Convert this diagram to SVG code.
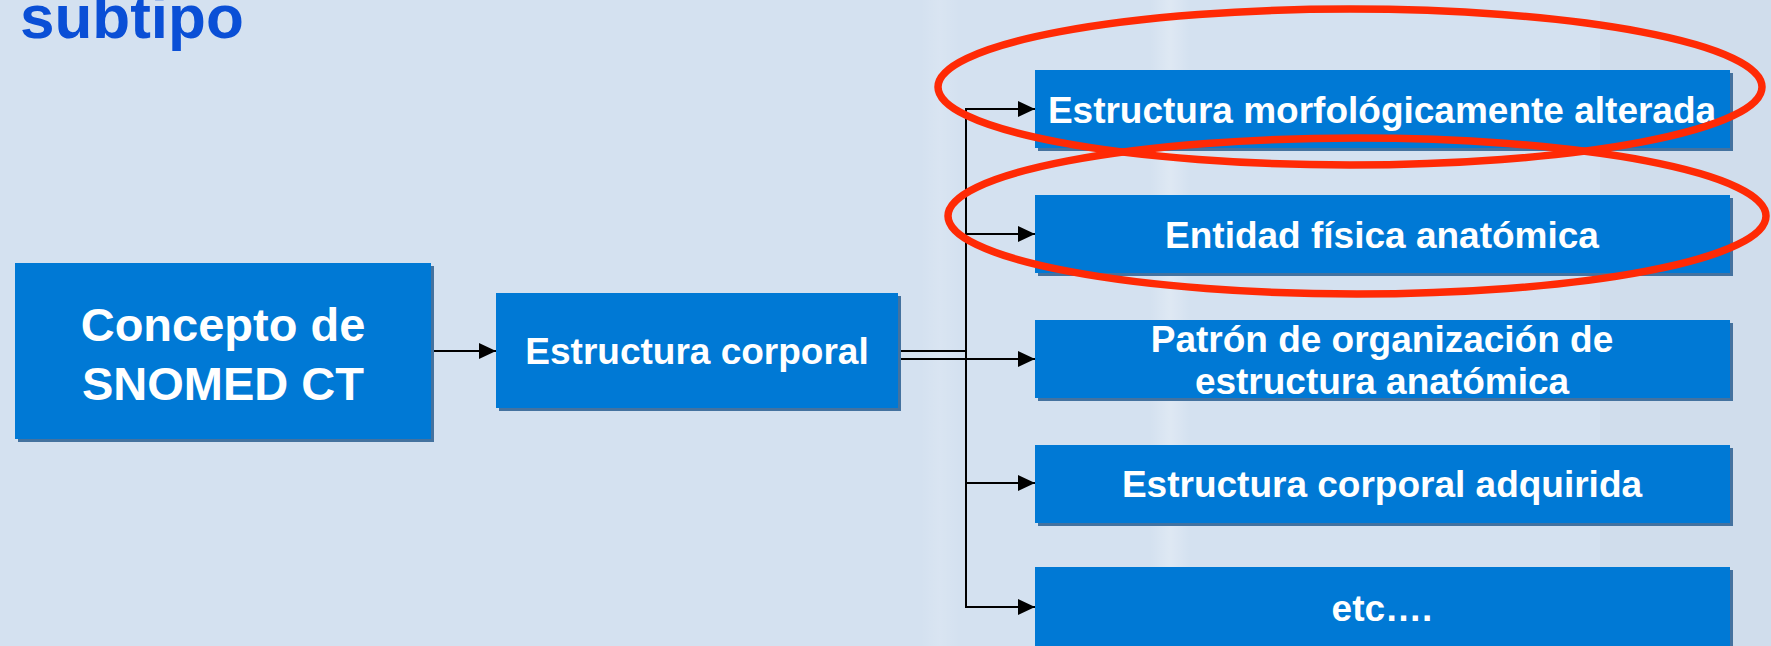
<svg xmlns="http://www.w3.org/2000/svg" width="1771" height="646" viewBox="0 0 1771 646">
<defs>
<style>
.box{fill:#0079D5}
.sh{fill:#44729F}
.t{font-family:"Liberation Sans",Arial,sans-serif;font-weight:bold;fill:#FFFFFF;text-anchor:middle}
.ln{stroke:#000;stroke-width:2;fill:none}
.ring{fill:none;stroke:#FF2A05;stroke-width:7.5}
</style>
<marker id="ah" markerWidth="17" markerHeight="16" refX="17" refY="8" orient="auto" markerUnits="userSpaceOnUse">
<path d="M0,0 L17,8 L0,16 Z" fill="#000"/>
</marker>
<linearGradient id="streak" x1="0" y1="0" x2="1" y2="0">
<stop offset="0" stop-color="#FFFFFF" stop-opacity="0"/>
<stop offset="0.5" stop-color="#FFFFFF" stop-opacity="0.25"/>
<stop offset="1" stop-color="#FFFFFF" stop-opacity="0"/>
</linearGradient>
</defs>
<rect x="0" y="0" width="1771" height="646" fill="#D4E1F0"/>
<rect x="1150" y="0" width="40" height="646" fill="url(#streak)"/>
<rect x="920" y="0" width="40" height="646" fill="url(#streak)" opacity="0.5"/>
<rect x="1600" y="0" width="171" height="646" fill="#CBD7E6" opacity="0.4"/>

<text x="20" y="38" font-family="'Liberation Sans',Arial,sans-serif" font-weight="bold" font-size="62" fill="#0A4FD6">subtipo</text>

<g id="connectors">
<line class="ln" x1="431" y1="351" x2="496" y2="351" marker-end="url(#ah)"/>
<line class="ln" x1="898" y1="351" x2="967" y2="351"/>
<line class="ln" x1="898" y1="359" x2="1035" y2="359" marker-end="url(#ah)"/>
<line class="ln" x1="966" y1="108" x2="966" y2="608"/>
<line class="ln" x1="965" y1="109" x2="1035" y2="109" marker-end="url(#ah)"/>
<line class="ln" x1="965" y1="234" x2="1035" y2="234" marker-end="url(#ah)"/>
<line class="ln" x1="965" y1="483" x2="1035" y2="483" marker-end="url(#ah)"/>
<line class="ln" x1="965" y1="607" x2="1035" y2="607" marker-end="url(#ah)"/>
</g>

<g id="n-concepto">
<rect class="sh" x="18" y="266" width="416" height="176"/>
<rect class="box" x="15" y="263" width="416" height="176"/>
<text class="t" font-size="47" x="223" y="341">Concepto de</text>
<text class="t" font-size="47" x="223" y="400">SNOMED CT</text>
</g>

<g id="n-estructura-corporal">
<rect class="sh" x="499" y="296" width="402" height="115"/>
<rect class="box" x="496" y="293" width="402" height="115"/>
<text class="t" font-size="37" x="697" y="364">Estructura corporal</text>
</g>

<g id="n-morfologica">
<rect class="sh" x="1038" y="73" width="695" height="78"/>
<rect class="box" x="1035" y="70" width="695" height="78"/>
<text class="t" font-size="37" x="1382" y="123">Estructura morfológicamente alterada</text>
</g>

<g id="n-entidad">
<rect class="sh" x="1038" y="198" width="695" height="78"/>
<rect class="box" x="1035" y="195" width="695" height="78"/>
<text class="t" font-size="37" x="1382" y="248">Entidad física anatómica</text>
</g>

<g id="n-patron">
<rect class="sh" x="1038" y="323" width="695" height="78"/>
<rect class="box" x="1035" y="320" width="695" height="78"/>
<text class="t" font-size="37" x="1382" y="352">Patrón de organización de</text>
<text class="t" font-size="37" x="1382" y="394">estructura anatómica</text>
</g>

<g id="n-adquirida">
<rect class="sh" x="1038" y="448" width="695" height="78"/>
<rect class="box" x="1035" y="445" width="695" height="78"/>
<text class="t" font-size="37" x="1382" y="497">Estructura corporal adquirida</text>
</g>

<g id="n-etc">
<rect class="sh" x="1038" y="570" width="695" height="80"/>
<rect class="box" x="1035" y="567" width="695" height="80"/>
<text class="t" font-size="37" x="1382" y="621">etc….</text>
</g>

<g id="highlights">
<ellipse class="ring" cx="1350" cy="87" rx="412" ry="78"/>
<ellipse class="ring" cx="1357" cy="216" rx="409" ry="78"/>
</g>
</svg>
